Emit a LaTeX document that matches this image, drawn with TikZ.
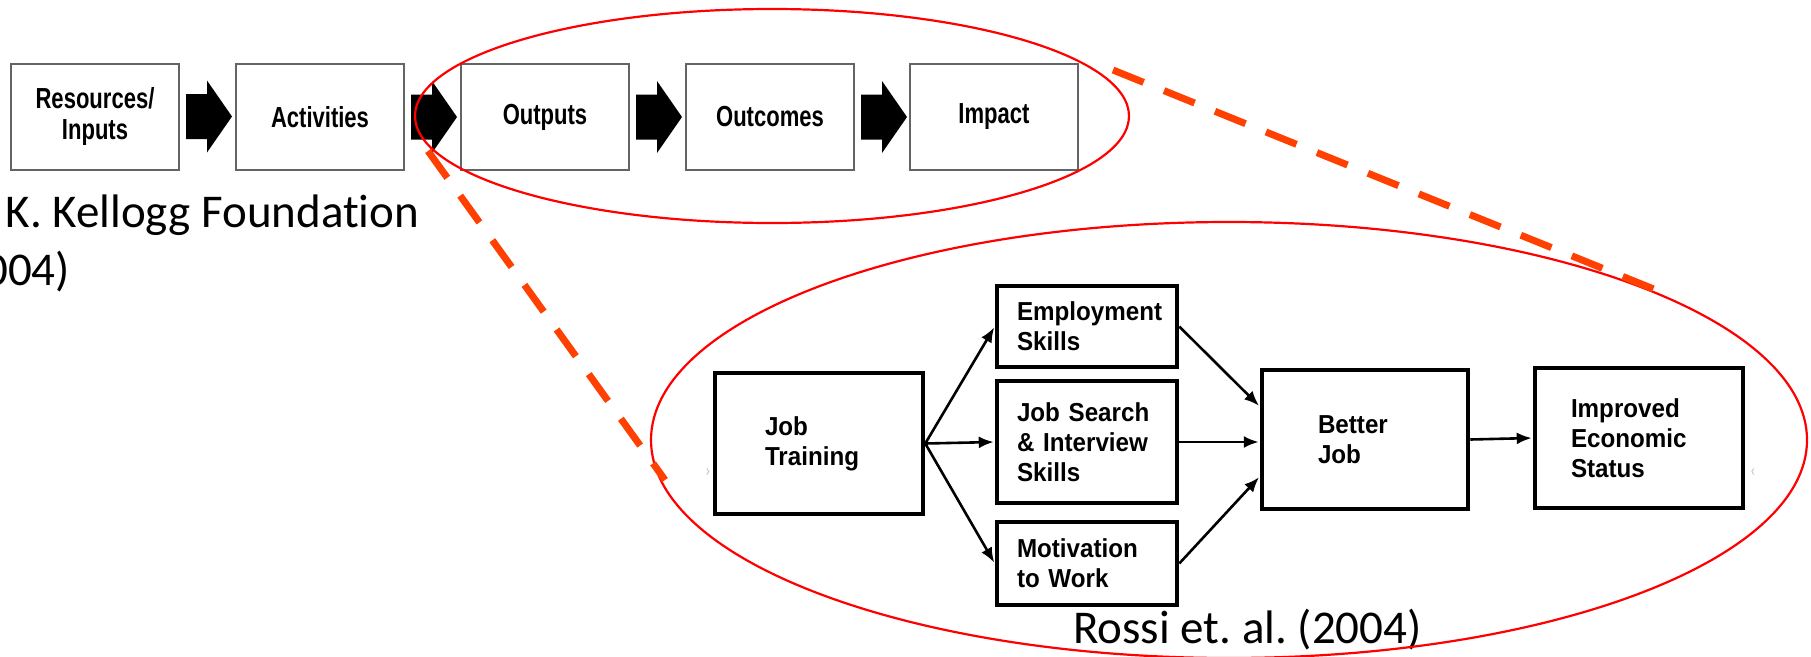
\documentclass[tikz,border=0pt]{standalone}
\usepackage{fontspec}
\setmainfont{Carlito}[Ligatures=NoCommon]
\newfontfamily\topfont[FakeStretch=0.76]{Liberation Sans}
\newfontfamily\lowfont[FakeStretch=0.93]{Liberation Sans}
\usetikzlibrary{arrows.meta,calc}
\definecolor{dashred}{RGB}{255,64,0}
\definecolor{boxgray}{RGB}{100,100,100}
\frenchspacing
\begin{document}
\begin{tikzpicture}[x=1pt,y=-1pt,
  topbox/.style={draw=boxgray,line width=2pt,minimum width=168pt,minimum height=106pt,inner sep=0pt,align=center,font=\topfont\bfseries\fontsize{29}{31}\selectfont},
  lowbox/.style={draw=black,line width=4.5pt,inner sep=0pt,align=left,font=\lowfont\bfseries\fontsize{26}{30}\selectfont},
  ring/.style={draw=red,line width=2.2pt},
  zoomline/.style={draw=dashred,line width=7pt,dash pattern=on 33pt off 22pt},
  conn/.style={line width=2.6pt,shorten >=1pt,-{Latex[length=15pt,width=12pt]}},
  caption/.style={inner sep=0pt,font=\fontsize{47}{56}\selectfont},
  faint/.style={inner sep=0pt,text=gray!45,font=\fontsize{18}{18}\selectfont}
]
\useasboundingbox (0,0) rectangle (1811,656);
\clip (0,0) rectangle (1811,656);

% top row
\node[topbox] (res) at (95,116.5) {Resources/\\Inputs};
\node[topbox] (act) at (320,117) {Activities};
\node[topbox] (out) at (545,117) {Outputs};
\node[topbox] (oc)  at (770,117) {Outcomes};
\node[topbox] (imp) at (994,117) {Impact};
\foreach \a in {res,act,out,oc}{
  \fill ($(\a.east)+(6,-22.5)$) -- ++(21,0) -- ++(0,-13.5) -- ++(25,36) -- ++(-25,36) -- ++(0,-13.5) -- ++(-21,0) -- cycle;
}

\node[caption,anchor=base west] (kel) at (-54,227) {W. K. Kellogg Foundation};
\node[caption,anchor=base west] (kely) at (-54,285) {(2004)};

% lower diagram
\node[lowbox,minimum width=208pt,minimum height=141pt,text width=108pt] (jt) at (819,443.5) {Job\\Training};
\node[lowbox,minimum width=180pt,minimum height=81pt,text width=140pt] (emp) at (1087,326.5) {Employment\\Skills};
\node[lowbox,minimum width=180pt,minimum height=122pt,text width=140pt] (js) at (1087,442) {Job Search\\\& Interview\\Skills};
\node[lowbox,minimum width=180pt,minimum height=83pt,text width=140pt] (mot) at (1087,563.5) {Motivation\\to Work};
\node[lowbox,minimum width=206pt,minimum height=139pt,text width=94pt] (bj) at (1365,439.5) {Better\\Job};
\node[lowbox,minimum width=208pt,minimum height=140pt,text width=136pt] (ies) at (1639,438) {Improved\\Economic\\Status};

\draw[conn] (jt.east) -- (emp.west);
\draw[conn] (jt.east) -- (js.west);
\draw[conn] (jt.east) -- (mot.west);
\draw[conn] (emp.east) -- ($(bj.west)+(0,-33)$);
\draw[conn] (js.east) -- (js.east -| bj.west);
\draw[conn] (mot.east) -- ($(bj.west)+(0,37)$);
\draw[conn] (bj.east) -- (ies.west);

\node[faint] (ltab) at (708,473) {›};
\node[faint] (rtab) at (1753,473) {‹};

\node[caption,anchor=base west] (rossi) at (1073,643) {Rossi et. al. (2004)};

% rings and zoom lines
\draw[ring] (772,116) ellipse [x radius=357, y radius=107];
\draw[ring] (1229,440) ellipse [x radius=578, y radius=218];
\coordinate (z1a) at (428,151);
\coordinate (z1b) at (665,480);
\coordinate (z2a) at (1113,70);
\coordinate (z2b) at (1661,292);
\draw[zoomline] (z1a) -- (z1b);
\draw[zoomline] (z2a) -- (z2b);
\end{tikzpicture}
\end{document}
